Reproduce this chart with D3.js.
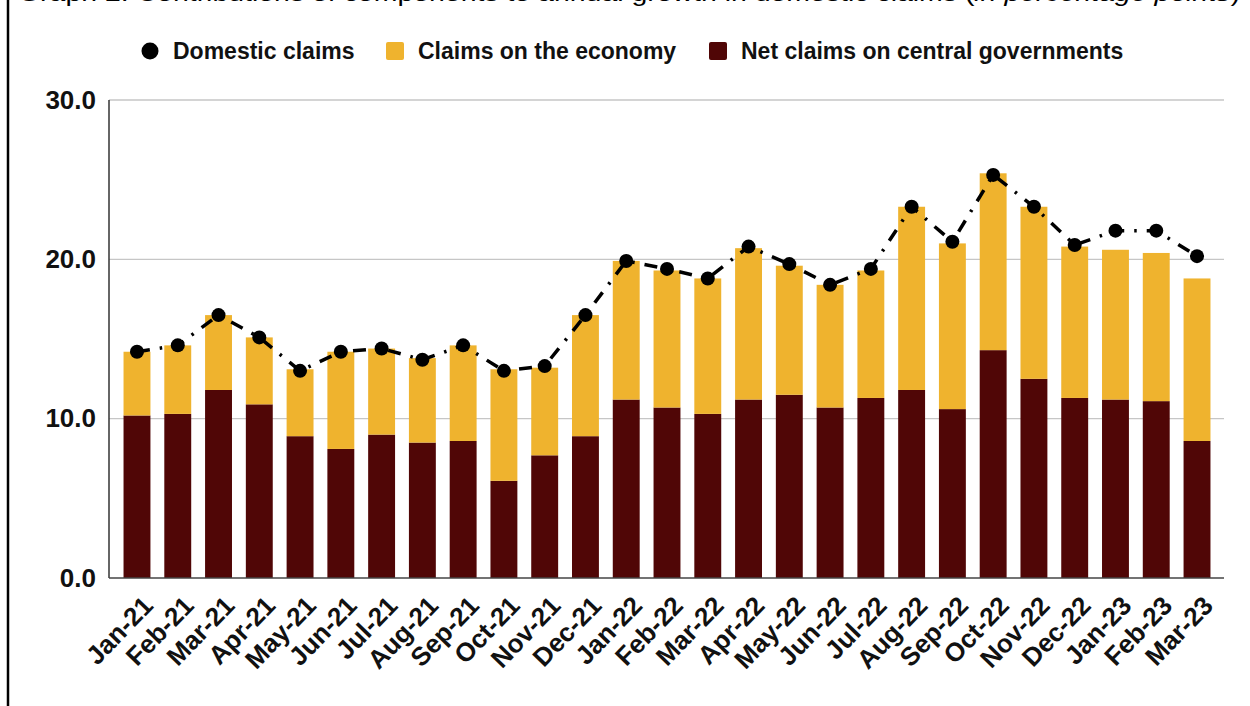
<!DOCTYPE html>
<html>
<head>
<meta charset="utf-8">
<script src="https://cdn.jsdelivr.net/npm/d3@7/dist/d3.min.js"></script>
<style>
  html, body { margin: 0; padding: 0; background: #fff; }
  svg { display: block; font-family: "Liberation Sans", Arial, sans-serif; }
</style>
</head>
<body>
<svg id="chart" width="1250" height="706"></svg>
<script>
// Monthly periods
const months = ["Jan-21","Feb-21","Mar-21","Apr-21","May-21","Jun-21","Jul-21","Aug-21","Sep-21",
  "Oct-21","Nov-21","Dec-21","Jan-22","Feb-22","Mar-22","Apr-22","May-22","Jun-22","Jul-22",
  "Aug-22","Sep-22","Oct-22","Nov-22","Dec-22","Jan-23","Feb-23","Mar-23"];

// Net claims on central governments (percentage points)
const netClaimsGov = [10.2,10.3,11.8,10.9,8.9,8.1,9.0,8.5,8.6,6.1,7.7,8.9,11.2,10.7,10.3,11.2,
  11.5,10.7,11.3,11.8,10.6,14.3,12.5,11.3,11.2,11.1,8.6];

// Claims on the economy (percentage points)
const claimsEconomy = [4.0,4.3,4.7,4.2,4.2,6.1,5.4,5.3,6.0,7.0,5.5,7.6,8.7,8.6,8.5,9.5,
  8.1,7.7,8.0,11.5,10.4,11.1,10.8,9.5,9.4,9.3,10.2];

// Domestic claims, annual growth (%)
const domesticClaims = [14.2,14.6,16.5,15.1,13.0,14.2,14.4,13.7,14.6,13.0,13.3,16.5,19.9,19.4,
  18.8,20.8,19.7,18.4,19.4,23.3,21.1,25.3,23.3,20.9,21.8,21.8,20.2];

const yTicks = [0, 10, 20, 30];

const seriesNames = ["Domestic claims", "Claims on the economy", "Net claims on central governments"];
const colors = { economy: "#EFB32E", gov: "#500606", line: "#000000" };

const svg = d3.select("#chart");

// Frame line on the left edge
svg.append("line").attr("x1", 8).attr("x2", 8).attr("y1", 0).attr("y2", 706)
  .attr("stroke", "#000").attr("stroke-width", 2.5);

// Title (runs off the top edge)
const title = svg.append("text").attr("x", 18).attr("y", 1)
  .attr("font-size", 22).attr("fill", "#000")
  .attr("textLength", 1222).attr("lengthAdjust", "spacingAndGlyphs");
title.append("tspan").text("Graph 2: Contributions of components to annual growth in domestic claims (");
title.append("tspan").attr("font-style", "italic").text("in percentage points");
title.append("tspan").text(")");

// Scales
const x = d3.scaleBand().domain(months).range([116.6, 1217.4])
  .paddingInner(0.34).paddingOuter(0.17);
const y = d3.scaleLinear().domain([0, 30]).range([578, 100]);

const plotLeft = 109, plotRight = 1224;

// Gridlines
svg.append("g").selectAll("line").data(yTicks.filter(d => d > 0)).join("line")
  .attr("x1", plotLeft).attr("x2", plotRight)
  .attr("y1", d => y(d)).attr("y2", d => y(d))
  .attr("stroke", "#c6c6c6").attr("stroke-width", 1.3);

// Y axis labels
const yAxis = d3.axisLeft(y).tickValues(yTicks).tickFormat(d3.format(".1f")).tickSize(0).tickPadding(0);
const gy = svg.append("g").attr("transform", `translate(96,0)`).call(yAxis);
gy.select(".domain").remove();
gy.selectAll("text").attr("font-size", 26).attr("font-weight", "bold").attr("fill", "#111")
  .attr("font-family", "'Liberation Sans', Arial, sans-serif");

// Stacked bars
const rows = months.map((m, i) => ({ month: m, gov: netClaimsGov[i], economy: claimsEconomy[i] }));
const stack = d3.stack().keys(["gov", "economy"])(rows);

svg.append("g").selectAll("g").data(stack).join("g")
  .attr("fill", d => colors[d.key])
  .selectAll("rect").data(d => d).join("rect")
  .attr("x", d => x(d.data.month))
  .attr("width", x.bandwidth())
  .attr("y", d => y(d[1]))
  .attr("height", d => y(d[0]) - y(d[1]));

// Axis lines
svg.append("line").attr("x1", plotLeft).attr("x2", plotLeft).attr("y1", 100).attr("y2", 578)
  .attr("stroke", "#333").attr("stroke-width", 1.5);
svg.append("line").attr("x1", plotLeft).attr("x2", plotRight).attr("y1", 578).attr("y2", 578)
  .attr("stroke", "#444").attr("stroke-width", 1.5);

// Domestic claims line and markers
const line = d3.line().x((d, i) => x(months[i]) + x.bandwidth() / 2).y(d => y(d));
svg.append("path").datum(domesticClaims)
  .attr("d", line).attr("fill", "none").attr("stroke", colors.line)
  .attr("stroke-width", 3.5).attr("stroke-dasharray", "13,10,2.5,10");
svg.append("g").selectAll("circle").data(domesticClaims).join("circle")
  .attr("cx", (d, i) => x(months[i]) + x.bandwidth() / 2)
  .attr("cy", d => y(d)).attr("r", 7).attr("fill", colors.line);

// X axis labels
svg.append("g").selectAll("text").data(months).join("text")
  .attr("transform", d => `translate(${x(d) + x.bandwidth() / 2 + 4},${594}) rotate(-46)`)
  .attr("text-anchor", "end").attr("dy", "0.72em")
  .attr("font-size", 26).attr("font-weight", "bold").attr("fill", "#111")
  .text(d => d);

// Legend
const legend = svg.append("g").attr("font-size", 23).attr("font-weight", "bold").attr("fill", "#111");
legend.append("circle").attr("cx", 150).attr("cy", 51).attr("r", 8.5).attr("fill", colors.line);
legend.append("text").attr("x", 173).attr("y", 59).text(seriesNames[0]);
legend.append("rect").attr("x", 386).attr("y", 42).attr("width", 18).attr("height", 18)
  .attr("rx", 2).attr("fill", colors.economy);
legend.append("text").attr("x", 418).attr("y", 59).text(seriesNames[1]);
legend.append("rect").attr("x", 709).attr("y", 42).attr("width", 18).attr("height", 18)
  .attr("rx", 2).attr("fill", colors.gov);
legend.append("text").attr("x", 741).attr("y", 59).text(seriesNames[2]);
</script>
</body>
</html>
